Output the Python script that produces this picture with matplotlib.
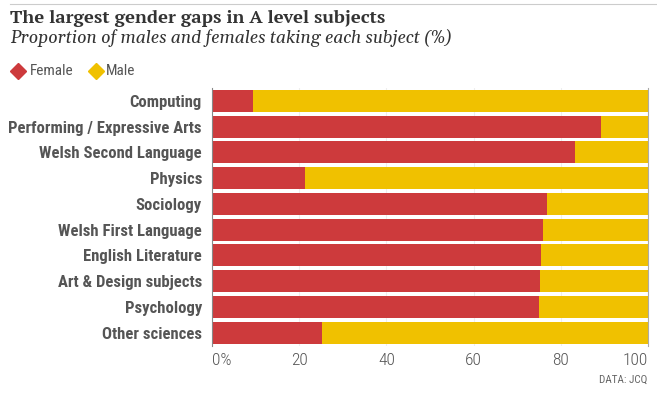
import matplotlib.pyplot as plt
from matplotlib.lines import Line2D
from matplotlib.transforms import ScaledTranslation

# data
subjects = ["Computing", "Performing / Expressive Arts", "Welsh Second Language",
            "Physics", "Sociology", "Welsh First Language", "English Literature",
            "Art & Design subjects", "Psychology", "Other sciences"]
female = [9.5, 89.2, 83.1, 21.4, 76.8, 75.9, 75.4, 75.3, 74.9, 25.3]
male = [100 - f for f in female]
ticks = [0, 20, 40, 60, 80, 100]
tick_labels = ["0%", "20", "40", "60", "80", "100"]

red = "#cd3a3c"
yellow = "#f0c100"
grey = "#555555"

label_font = ["Roboto Condensed", "PT Sans Narrow", "Liberation Sans Narrow", "DejaVu Sans"]
title_font = ["PT Serif", "Noto Serif", "Liberation Serif", "DejaVu Serif"]
serif_font = ["Georgia", "Gelasio", "Liberation Serif", "DejaVu Serif"]

fig = plt.figure(figsize=(6.57, 3.95), dpi=100)
W, H = 657, 395
ax = fig.add_axes([211.7 / W, 1 - 345.6 / H, (648.3 - 211.7) / W, (345.6 - 87.9) / H])

y = range(len(subjects))
ax.barh(y, female, height=0.85, color=red, zorder=2)
ax.barh(y, male, left=female, height=0.85, color=yellow, zorder=2)

ax.set_xlim(0, 100)
ax.set_ylim(len(subjects) - 0.5, -0.5)
ax.set_yticks(list(y))
ax.set_yticklabels(subjects, fontsize=12, fontweight="bold", color=grey, family=label_font)
ax.set_xticks(ticks)
ax.set_xticklabels(tick_labels, fontsize=12.5, fontweight="light", color=grey,
                   family=label_font)
xt = ax.get_xticklabels()
xt[0].set_ha("left")
xt[0].set_transform(xt[0].get_transform() + ScaledTranslation(-4 / 100, 0, fig.dpi_scale_trans))
xt[-1].set_ha("right")
ax.tick_params(length=0, pad=5)
ax.tick_params(axis="y", pad=7)
ax.grid(axis="x", color="#eeeeee", lw=0.8, zorder=0)
for s in ["top", "bottom"]:
    ax.spines[s].set_visible(False)
ax.spines["left"].set_color("#888888")
ax.spines["right"].set_color("#aaaaaa")

# header
fig.add_artist(Line2D([10 / W, 1], [1 - 4 / H] * 2, color="#cccccc", lw=0.8))
fig.text(10 / W, 1 - 23 / H, "The largest gender gaps in A level subjects",
         fontsize=13.3, fontweight="bold", family=title_font, color="#333333",
         va="baseline")
fig.text(10 / W, 1 - 43 / H, "Proportion of males and females taking each subject (%)",
         fontsize=12.6, style="italic", family=serif_font, color="#333333",
         va="baseline")

# legend
fig.add_artist(Line2D([18 / W], [1 - 71 / H], marker="D", ms=8, color=red, lw=0))
fig.text(30 / W, 1 - 71 / H, "Female", fontsize=11, color=grey, family=label_font,
         va="center")
fig.add_artist(Line2D([96 / W], [1 - 71 / H], marker="D", ms=8, color=yellow, lw=0))
fig.text(106 / W, 1 - 71 / H, "Male", fontsize=11, color=grey, family=label_font,
         va="center")

fig.text(647 / W, 1 - 380 / H, "DATA: JCQ", fontsize=8, color="#666666",
         family=label_font, ha="right", va="center")

fig.savefig("out.png", dpi=100)
